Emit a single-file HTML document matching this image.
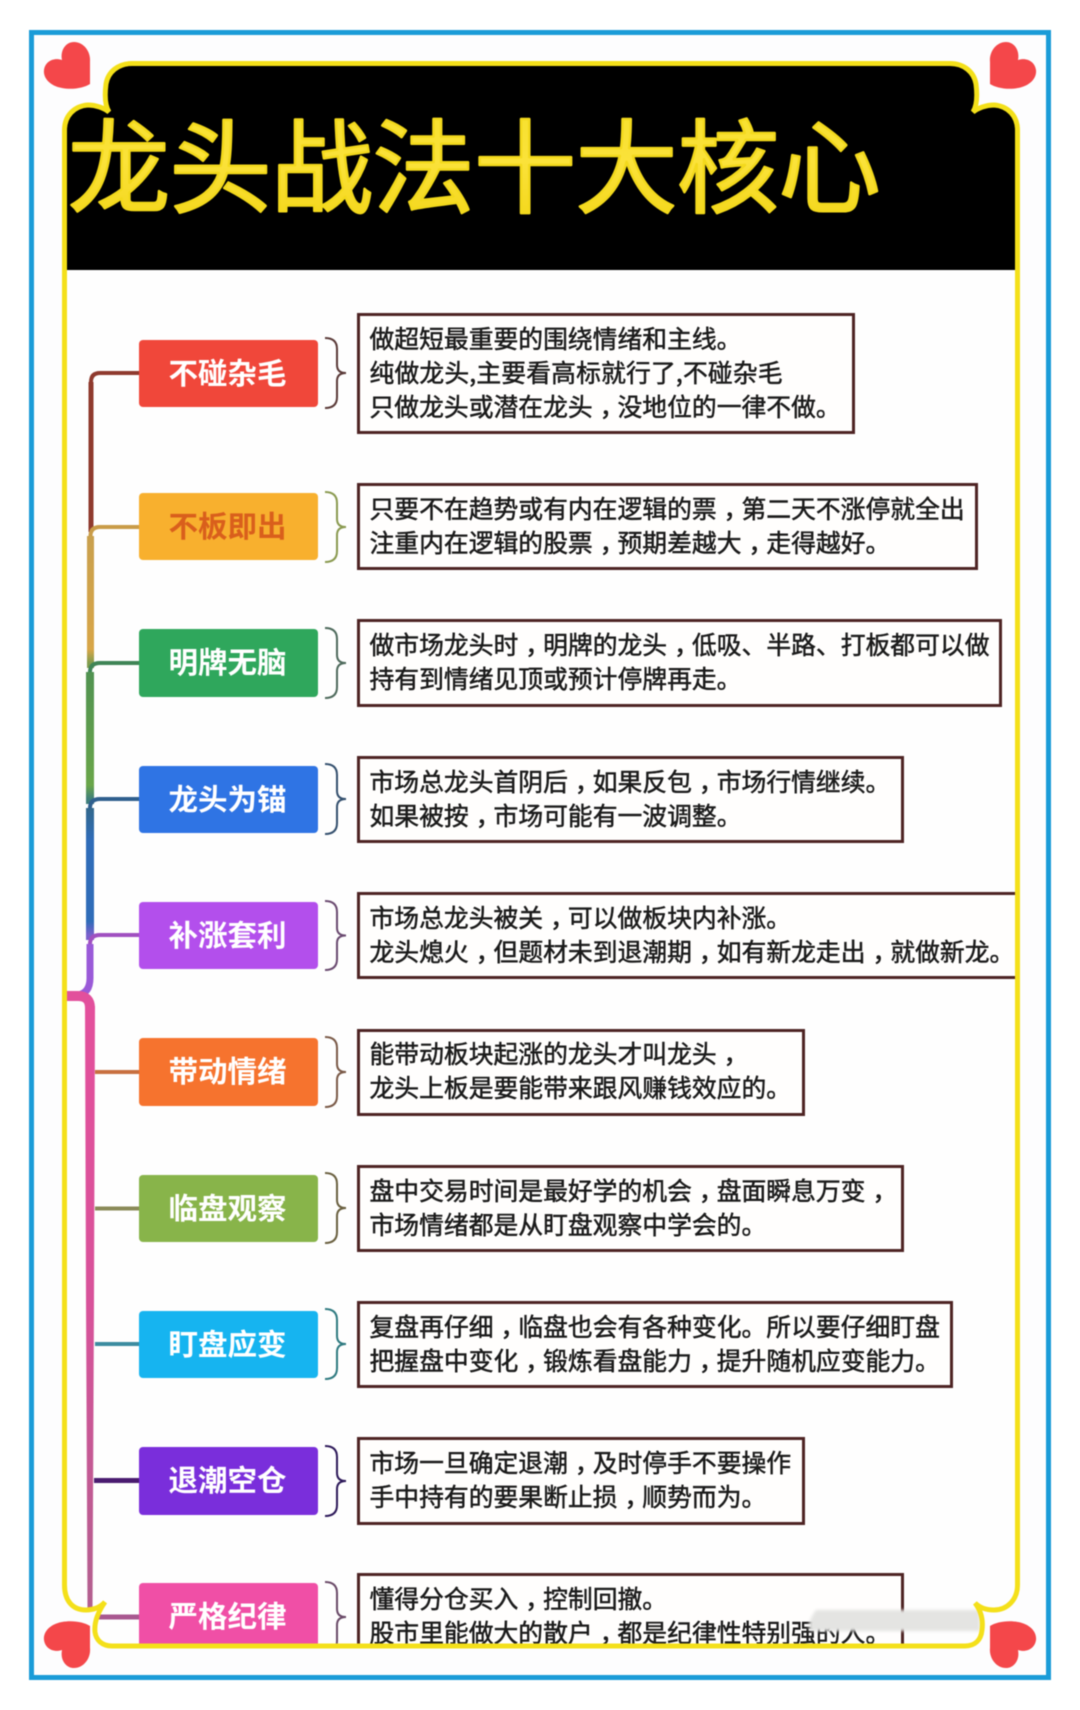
<!DOCTYPE html>
<html lang="zh"><head><meta charset="utf-8"><title>龙头战法十大核心</title>
<style>
html,body{margin:0;padding:0;background:#fff;width:1080px;height:1710px;overflow:hidden}
svg{display:block;filter:blur(.5px)}
.t{font-family:"Liberation Sans","Noto Sans CJK SC",sans-serif;font-size:24.8px;fill:#1b1b1b;stroke:#1b1b1b;stroke-width:.5px}
.t2{font-family:"Noto Sans CJK SC",sans-serif;font-size:24.8px;fill:#1b1b1b;stroke:#1b1b1b;stroke-width:.5px}
.p{font-family:"Liberation Sans","Noto Sans CJK SC",sans-serif;font-size:29.5px;font-weight:700;fill:#fff;text-anchor:middle}
.b{fill:#fffefd;stroke:#4e2424;stroke-width:3}
.k{fill:none;stroke-width:2}
.l{fill:none}
</style></head><body>
<svg xmlns="http://www.w3.org/2000/svg" width="1080" height="1710" viewBox="0 0 1080 1710">
<defs>
<path id="fr" d="M64.5 130C64.5 116 74 106 88 105C96 105 104 108 109 112C104 104 105 92 106 84C108 72 118 63.5 132 63.5H950C964 63.5 974 72 976 84C977 92 978 104 973 112C978 108 986 105 994 105C1008 106 1017.500 116 1017.500 130V1585C1017.500 1600 1007 1610 994 1610C987 1610 980 1608 975 1603C982 1612 983 1622 982 1630C981 1640 975 1646 965 1646H112C102 1646 96 1640 95 1632C94 1622 98 1612 105 1602C100 1608 92 1610 86 1610C72 1610 64.5 1600 64.5 1585Z"/>
<clipPath id="cf"><use href="#fr"/></clipPath>
<path id="h" d="M90 84C84 88 72 90 62 88C50 86 43 78 44 70C45 62 53 57 62 60C60 50 66 42 74 42C84 42 91 52 90 62Z"/>
<filter id="bl" x="-10%" y="-30%" width="120%" height="160%"><feGaussianBlur stdDeviation="1.500"/></filter>
<linearGradient id="g" x1="0" y1="0" x2="0" y2="1"><stop offset="0" stop-color="#f5e02a"/><stop offset=".5" stop-color="#fbe23a"/><stop offset="1" stop-color="#f2d414"/></linearGradient>
<linearGradient id="pk" gradientUnits="userSpaceOnUse" x1="0" y1="1000" x2="0" y2="1610"><stop offset="0" stop-color="#e4509c"/><stop offset=".5" stop-color="#d8529a"/><stop offset="1" stop-color="#b2608f"/></linearGradient>
<linearGradient id="ye" gradientUnits="userSpaceOnUse" x1="0" y1="527" x2="0" y2="663"><stop offset="0" stop-color="#c8a04e"/><stop offset=".9" stop-color="#d8a648"/><stop offset="1" stop-color="#7f9c4e"/></linearGradient>
<linearGradient id="gr" gradientUnits="userSpaceOnUse" x1="0" y1="663" x2="0" y2="799"><stop offset="0" stop-color="#4f9152"/><stop offset=".9" stop-color="#6aa64a"/><stop offset="1" stop-color="#3f7e7a"/></linearGradient>
<linearGradient id="bu" gradientUnits="userSpaceOnUse" x1="0" y1="799" x2="0" y2="935"><stop offset="0" stop-color="#33667f"/><stop offset=".3" stop-color="#2f6cb8"/><stop offset=".9" stop-color="#2f6cb8"/><stop offset="1" stop-color="#7a60cc"/></linearGradient>
</defs>
<rect width="1080" height="1710" fill="#fff"/>
<rect x="31.5" y="32.5" width="1017" height="1645" fill="#fdfdfe" stroke="#1b9cd8" stroke-width="5"/>
<g fill="#f4474a">
<use href="#h"/>
<use href="#h" transform="translate(1080 0) scale(-1 1)"/>
<use href="#h" transform="translate(0 1710) scale(1 -1)"/>
<use href="#h" transform="translate(1080 1710) scale(-1 -1)"/>
</g>
<use href="#fr" fill="#fefefe"/>
<g clip-path="url(#cf)">
<rect x="50" y="50" width="990" height="220" fill="#000"/>

<!-- trunk -->
<g class="l" stroke-linecap="butt">
<path d="M91 382V532" stroke="#8f3a2e" stroke-width="5"/>
<path d="M139 373H100Q91 373 91 382" stroke="#8f3a2e" stroke-width="4"/>
<path d="M90.500 536V668" stroke="url(#ye)" stroke-width="7"/>
<path d="M139 527H100Q90.500 527 90.500 536" stroke="#c99c48" stroke-width="4"/>
<path d="M90 672V804" stroke="url(#gr)" stroke-width="8"/>
<path d="M139 663H100Q90 663 90 672" stroke="#3f8556" stroke-width="4"/>
<path d="M90 808V940" stroke="url(#bu)" stroke-width="8"/>
<path d="M139 799H100Q90 799 90 808" stroke="#2f5f8e" stroke-width="4"/>
<path d="M90 944V978Q90 993 78 995" stroke="#9a5ad8" stroke-width="7"/>
<path d="M139 935H100Q90 935 90 944" stroke="#a050c0" stroke-width="4"/>
<path d="M66 996H78Q90 996 90 1008" stroke="#e2509c" stroke-width="10"/>
<polygon points="85,1006 95,1006 94,1300 93.500,1400 92.500,1612 87.500,1612 86.500,1400 86,1300" fill="url(#pk)"/>
<path d="M95 1072H139" stroke="#c87040" stroke-width="4"/>
<path d="M95 1208.500H139" stroke="#8a8a58" stroke-width="4"/>
<path d="M95 1344H139" stroke="#3c8ca0" stroke-width="4"/>
<path d="M94 1480.500H139" stroke="#4a1c70" stroke-width="5"/>
<path d="M92 1617H139" stroke="#a85890" stroke-width="5"/>
</g>

<!-- pills -->
<rect x="139" y="340" width="179" height="67" rx="4" fill="#f0473a"/>
<rect x="139" y="493" width="179" height="67" rx="4" fill="#f8b02e"/>
<rect x="139" y="629" width="179" height="68" rx="4" fill="#2fa75c"/>
<rect x="139" y="766" width="179" height="67" rx="4" fill="#2f74e4"/>
<rect x="139" y="902" width="179" height="67" rx="4" fill="#b34fec"/>
<rect x="139" y="1038" width="179" height="68" rx="4" fill="#f6732e"/>
<rect x="139" y="1175" width="179" height="67" rx="4" fill="#88b44a"/>
<rect x="139" y="1311" width="179" height="67" rx="4" fill="#16b4f0"/>
<rect x="139" y="1447" width="179" height="68" rx="4" fill="#7a2edb"/>
<rect x="139" y="1583" width="179" height="68" rx="4" fill="#f04fa6"/>
<text class="p" x="227.500" y="384">不碰杂毛</text>
<text class="p" x="227.500" y="537" style="fill:#d95f1c">不板即出</text>
<text class="p" x="227.500" y="673">明牌无脑</text>
<text class="p" x="227.500" y="810">龙头为锚</text>
<text class="p" x="227.500" y="946">补涨套利</text>
<text class="p" x="227.500" y="1082">带动情绪</text>
<text class="p" x="227.500" y="1219">临盘观察</text>
<text class="p" x="227.500" y="1355">盯盘应变</text>
<text class="p" x="227.500" y="1491">退潮空仓</text>
<text class="p" x="227.500" y="1627">严格纪律</text>

<!-- brackets -->
<path class="k" stroke="#5a3a38" d="M325 338Q337 338 337 349V365Q337 373 346 373Q337 373 337 381V397Q337 408 325 408"/>
<path class="k" stroke="#8a9a50" d="M325 492Q337 492 337 503V519Q337 527 346 527Q337 527 337 535V551Q337 562 325 562"/>
<path class="k" stroke="#4e6a5c" d="M325 628Q337 628 337 639V655Q337 663 346 663Q337 663 337 671V687Q337 698 325 698"/>
<path class="k" stroke="#34506e" d="M325 764Q337 764 337 775V791Q337 799 346 799Q337 799 337 807V823Q337 834 325 834"/>
<path class="k" stroke="#6a4a70" d="M325 901Q337 901 337 912V928Q337 935.500 346 935.500Q337 935.500 337 943V959Q337 970 325 970"/>
<path class="k" stroke="#7a5a48" d="M325 1037Q337 1037 337 1048V1064Q337 1072 346 1072Q337 1072 337 1080V1096Q337 1107 325 1107"/>
<path class="k" stroke="#6a6040" d="M325 1173Q337 1173 337 1184V1200Q337 1208 346 1208Q337 1208 337 1216V1232Q337 1243 325 1243"/>
<path class="k" stroke="#2f7a80" d="M325 1309Q337 1309 337 1320V1336Q337 1344 346 1344Q337 1344 337 1352V1368Q337 1379 325 1379"/>
<path class="k" stroke="#2e1a5a" d="M325 1446Q337 1446 337 1457V1473Q337 1481 346 1481Q337 1481 337 1489V1505Q337 1516 325 1516"/>
<path class="k" stroke="#6a4a68" d="M325 1582Q337 1582 337 1593V1609Q337 1617 346 1617Q337 1617 337 1625V1641Q337 1652 325 1652"/>

<!-- boxes -->
<rect class="b" x="358.500" y="314.500" width="495" height="118"/>
<rect class="b" x="358.500" y="484.500" width="618" height="84"/>
<rect class="b" x="358.500" y="620.500" width="642" height="85"/>
<rect class="b" x="358.500" y="757.500" width="544" height="84"/>
<rect class="b" x="358.500" y="893.500" width="680" height="84"/>
<rect class="b" x="358.500" y="1030.500" width="445" height="84"/>
<rect class="b" x="358.500" y="1166.500" width="544" height="84"/>
<rect class="b" x="358.500" y="1302.500" width="593" height="84"/>
<rect class="b" x="358.500" y="1438.500" width="445" height="85"/>
<rect class="b" x="358.500" y="1574.500" width="544" height="90"/>

<!-- text -->
<text class="t" x="369.500" y="348">做超短最重要的围绕情绪和主线。</text>
<text class="t2" x="369.500" y="382" letter-spacing=".15">纯做龙头,主要看高标就行了,不碰杂毛</text>
<text class="t" x="369.500" y="416">只做龙头或潜在龙头<tspan dx="7">，</tspan><tspan dx="-7">没地位的一律不做。</tspan></text>
<text class="t" x="369.500" y="518">只要不在趋势或有内在逻辑的票<tspan dx="7">，</tspan><tspan dx="-7">第二天不涨停就全出</tspan></text>
<text class="t" x="369.500" y="552">注重内在逻辑的股票<tspan dx="7">，</tspan><tspan dx="-7">预期差越大</tspan><tspan dx="7">，</tspan><tspan dx="-7">走得越好。</tspan></text>
<text class="t" x="369.500" y="654">做市场龙头时<tspan dx="7">，</tspan><tspan dx="-7">明牌的龙头</tspan><tspan dx="7">，</tspan><tspan dx="-7">低吸、半路、打板都可以做</tspan></text>
<text class="t" x="369.500" y="688">持有到情绪见顶或预计停牌再走。</text>
<text class="t" x="369.500" y="791">市场总龙头首阴后<tspan dx="7">，</tspan><tspan dx="-7">如果反包</tspan><tspan dx="7">，</tspan><tspan dx="-7">市场行情继续。</tspan></text>
<text class="t" x="369.500" y="825">如果被按<tspan dx="7">，</tspan><tspan dx="-7">市场可能有一波调整。</tspan></text>
<text class="t" x="369.500" y="927">市场总龙头被关<tspan dx="7">，</tspan><tspan dx="-7">可以做板块内补涨。</tspan></text>
<text class="t" x="369.500" y="961">龙头熄火<tspan dx="7">，</tspan><tspan dx="-7">但题材未到退潮期</tspan><tspan dx="7">，</tspan><tspan dx="-7">如有新龙走出</tspan><tspan dx="7">，</tspan><tspan dx="-7">就做新龙。</tspan></text>
<text class="t" x="369.500" y="1063">能带动板块起涨的龙头才叫龙头<tspan dx="7">，</tspan></text>
<text class="t" x="369.500" y="1097">龙头上板是要能带来跟风赚钱效应的。</text>
<text class="t" x="369.500" y="1200">盘中交易时间是最好学的机会<tspan dx="7">，</tspan><tspan dx="-7">盘面瞬息万变</tspan><tspan dx="7">，</tspan></text>
<text class="t" x="369.500" y="1234">市场情绪都是从盯盘观察中学会的。</text>
<text class="t" x="369.500" y="1336">复盘再仔细<tspan dx="7">，</tspan><tspan dx="-7">临盘也会有各种变化。所以要仔细盯盘</tspan></text>
<text class="t" x="369.500" y="1370">把握盘中变化<tspan dx="7">，</tspan><tspan dx="-7">锻炼看盘能力</tspan><tspan dx="7">，</tspan><tspan dx="-7">提升随机应变能力。</tspan></text>
<text class="t" x="369.500" y="1472">市场一旦确定退潮<tspan dx="7">，</tspan><tspan dx="-7">及时停手不要操作</tspan></text>
<text class="t" x="369.500" y="1506">手中持有的要果断止损<tspan dx="7">，</tspan><tspan dx="-7">顺势而为。</tspan></text>
<text class="t" x="369.500" y="1608">懂得分仓买入<tspan dx="7">，</tspan><tspan dx="-7">控制回撤。</tspan></text>
<text class="t" x="369.500" y="1642">股市里能做大的散户<tspan dx="7">，</tspan><tspan dx="-7">都是纪律性特别强的人。</tspan></text>

<!-- smudge -->
<path d="M816 1610H980V1631H810Q806 1624 816 1610Z" fill="#e4e4e2" filter="url(#bl)"/>
</g>

<!-- title -->
<text x="68" y="205" font-family="'Noto Sans CJK SC',sans-serif" font-size="102" letter-spacing="-.5" fill="url(#g)" stroke="#f3d91c" stroke-width="2.500" stroke-linejoin="round" stroke-linecap="round">龙头战法十大核心</text>

<use href="#fr" fill="none" stroke="#f4e01a" stroke-width="5"/>
</svg>
</body></html>
